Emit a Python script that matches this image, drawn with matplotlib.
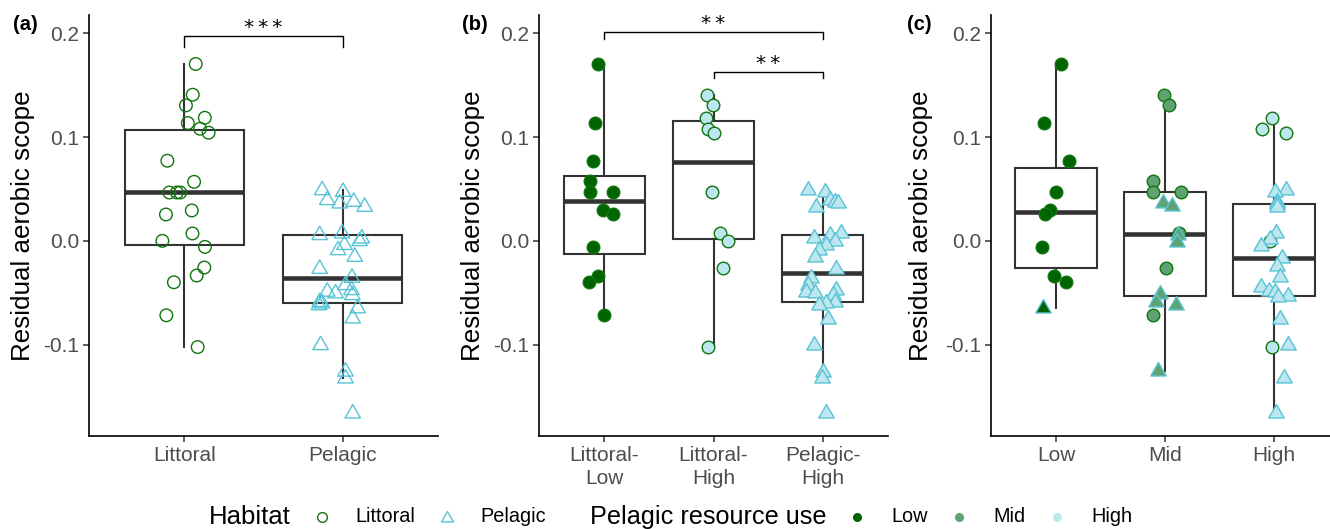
import matplotlib
matplotlib.use("Agg")
import matplotlib.pyplot as plt
import numpy as np
from matplotlib.path import Path

plt.rcParams['font.family'] = ['Liberation Sans', 'DejaVu Sans']
plt.rcParams['axes.unicode_minus'] = False

# ---------------- data ----------------
# (a) habitat
a_groups = ['Littoral', 'Pelagic']
a_lit = [0.1704, 0.1408, 0.1305, 0.1186, 0.1135, 0.1080, 0.1042, 0.0772, 0.0569, 0.0466, 0.0466,
         0.0466, 0.0293, 0.0254, 0.0071, 0.0000, -0.0058, -0.0257, -0.0334, -0.0399, -0.0717, -0.1023]
a_lit_dx = [0.073, 0.054, 0.011, 0.13, 0.023, 0.10, 0.154, -0.106, 0.0625, -0.094, -0.046,
            -0.025, 0.048, -0.115, 0.052, -0.1375, 0.131, 0.127, 0.079, -0.065, -0.1125, 0.085]
a_pel = [0.0488, 0.0472, 0.0392, 0.0376, 0.0360, 0.0328, 0.0071, 0.0055, 0.0023, -0.0003, -0.0040,
         -0.0090, -0.0154, -0.0270, -0.0356, -0.0427, -0.0475, -0.0490, -0.0507, -0.0523, -0.0590,
         -0.0603, -0.0620, -0.0650, -0.0748, -0.1005, -0.1260, -0.1326, -0.1663]
a_pel_dx = [-0.13, 0.002, -0.098, 0.069, -0.02, 0.1375, -0.004, -0.146, 0.12, 0.106, 0.01,
            -0.03, 0.075, -0.146, 0.058, 0.017, 0.055, -0.098, -0.046, 0.06, -0.145,
            -0.13, -0.15, 0.094, 0.0625, -0.14, 0.017, 0.017, 0.0625]

# (b) habitat x pelagic resource use
b_groups = ['Littoral-\nLow', 'Littoral-\nHigh', 'Pelagic-\nHigh']
b_lit_low = [0.1704, 0.1135, 0.0772, 0.0576, 0.0473, 0.0473, 0.0293, 0.0254, -0.0058, -0.0334, -0.0399, -0.0717]
b_lit_low_dx = [-0.061, -0.086, -0.101, -0.128, -0.135, 0.076, -0.012, 0.083, -0.107, -0.061, -0.138, -0.006]
b_lit_high = [0.1408, 0.1305, 0.1186, 0.1080, 0.1042, 0.0473, 0.0071, 0.0000, -0.0257, -0.1023]
b_lit_high_dx = [-0.064, -0.006, -0.073, -0.046, 0.009, -0.018, 0.058, 0.135, 0.083, -0.052]
b_pel_high = [0.0488, 0.0472, 0.0392, 0.0376, 0.0360, 0.0328, 0.0071, 0.0055, 0.0023, -0.0003, -0.0040,
              -0.0090, -0.0154, -0.0270, -0.0356, -0.0427, -0.0475, -0.0490, -0.0507, -0.0523, -0.0590,
              -0.0603, -0.0620, -0.0748, -0.1005, -0.1260, -0.1326, -0.1663]
b_pel_high_dx = [-0.135, 0.018, 0.064, 0.11, 0.14, -0.058, 0.165, 0.064, -0.08, 0.11, 0.028,
                 -0.03, -0.073, 0.126, -0.11, -0.135, 0.126, -0.15, -0.073, 0.095, 0.11,
                 0.034, -0.03, 0.049, -0.08, 0.003, -0.003, 0.034]

# (c) pelagic resource use, split by habitat
c_groups = ['Low', 'Mid', 'High']
c_low_lit = [0.1704, 0.1135, 0.0772, 0.0473, 0.0293, 0.0254, -0.0058, -0.0334, -0.0399]
c_low_lit_dx = [0.046, -0.113, 0.116, -0.003, -0.061, -0.103, -0.131, -0.018, 0.092]
c_low_pel = [-0.0650]
c_low_pel_dx = [-0.12]
c_mid_lit = [0.1408, 0.1305, 0.0576, 0.0473, 0.0473, 0.0071, -0.0257, -0.0717]
c_mid_lit_dx = [-0.009, 0.034, -0.113, -0.113, 0.147, 0.125, 0.012, -0.113]
c_mid_pel = [0.0360, 0.0334, 0.0055, -0.0010, -0.0513, -0.0588, -0.0620, -0.1255]
c_mid_pel_dx = [-0.015, 0.061, 0.122, 0.107, -0.046, -0.085, 0.098, -0.067]
c_high_lit = [0.1186, 0.1080, 0.1042, 0.0000, -0.1023]
c_high_lit_dx = [-0.015, -0.107, 0.11, -0.03, -0.018]
c_high_pel = [0.0488, 0.0472, 0.0376, 0.0352, 0.0325, 0.0071, 0.0016, -0.0045, -0.0165, -0.0245,
              -0.0350, -0.0440, -0.0480, -0.0490, -0.0530, -0.0545, -0.0748, -0.1005, -0.1326, -0.1663]
c_high_pel_dx = [0.11, 0.009, 0.03, 0.03, 0.03, 0.025, -0.037, -0.113, 0.08, 0.03,
                 0.06, -0.113, -0.043, 0.009, 0.13, 0.04, 0.055, 0.13, 0.094, 0.025]

# significance brackets: (panel, group1, group2, y, drop, label)
sig = [('a', 1, 2, 0.197, 0.010, '***'),
       ('b', 1, 3, 0.201, 0.0065, '**'),
       ('b', 2, 3, 0.163, 0.0065, '**')]

# ---------------- style ----------------
LIT_EDGE = '#107510'
PEL_EDGE = '#58c3d5'
FILL = {'Low': '#006400', 'Mid': '#5fa372', 'High': '#bde7ee'}
BOX = '#333333'
TRI = Path([(0, 1), (-0.866, -0.5), (0.866, -0.5), (0, 1)], closed=True)
S_CIRC, S_TRI = 82, 165

W, H = 1330, 529
fig = plt.figure(figsize=(W / 100, H / 100), dpi=100)


def make_ax(left, right):
    ax = fig.add_axes([left / W, 1 - 436 / H, (right - left) / W, (436 - 15) / H])
    for s in ('top', 'right'):
        ax.spines[s].set_visible(False)
    for s in ('left', 'bottom'):
        ax.spines[s].set_linewidth(1.2)
    ax.set_ylim(-0.188, 0.2176)
    ax.set_yticks([-0.1, 0.0, 0.1, 0.2])
    ax.set_yticklabels(['-0.1', '0.0', '0.1', '0.2'])
    ax.tick_params(axis='both', length=4, width=1.1, color=BOX, labelsize=15,
                   labelcolor='#4d4d4d', pad=3)
    ax.set_ylabel('Residual aerobic scope', fontsize=18.7, va='center')
    return ax


def boxes(ax, groups):
    ax.boxplot(groups, positions=np.arange(1, len(groups) + 1), widths=0.75, whis=1.5,
               showfliers=False, showcaps=False, patch_artist=True,
               boxprops=dict(facecolor='white', edgecolor=BOX, linewidth=1.5),
               whiskerprops=dict(color=BOX, linewidth=1.5),
               medianprops=dict(color=BOX, linewidth=3.3, solid_capstyle='butt'),
               zorder=1)


def points(ax, pos, vals, dx, marker, face, edge):
    s = S_TRI if marker is TRI else S_CIRC
    ax.scatter(pos + np.asarray(dx), vals, marker=marker, s=s, facecolors=face,
               edgecolors=edge, linewidths=1.0, zorder=3)


axa = make_ax(89, 438)
axb = make_ax(539, 888)
axc = make_ax(991, 1339)
axes = {'a': axa, 'b': axb, 'c': axc}

# (a)
boxes(axa, [a_lit, a_pel])
points(axa, 1, a_lit, a_lit_dx, 'o', 'none', LIT_EDGE)
points(axa, 2, a_pel, a_pel_dx, TRI, 'none', PEL_EDGE)
axa.set_xlim(0.4, 2.6)
axa.set_xticks([1, 2])
axa.set_xticklabels(a_groups)

# (b)
boxes(axb, [b_lit_low, b_lit_high, b_pel_high])
points(axb, 1, b_lit_low, b_lit_low_dx, 'o', FILL['Low'], LIT_EDGE)
points(axb, 2, b_lit_high, b_lit_high_dx, 'o', FILL['High'], LIT_EDGE)
points(axb, 3, b_pel_high, b_pel_high_dx, TRI, FILL['High'], PEL_EDGE)
axb.set_xlim(0.4, 3.6)
axb.set_xticks([1, 2, 3])
axb.set_xticklabels(b_groups, linespacing=1.3)

# (c)
boxes(axc, [c_low_lit + c_low_pel, c_mid_lit + c_mid_pel, c_high_lit + c_high_pel])
points(axc, 1, c_low_lit, c_low_lit_dx, 'o', FILL['Low'], LIT_EDGE)
points(axc, 1, c_low_pel, c_low_pel_dx, TRI, FILL['Low'], PEL_EDGE)
points(axc, 2, c_mid_lit, c_mid_lit_dx, 'o', FILL['Mid'], LIT_EDGE)
points(axc, 2, c_mid_pel, c_mid_pel_dx, TRI, FILL['Mid'], PEL_EDGE)
points(axc, 3, c_high_lit, c_high_lit_dx, 'o', FILL['High'], LIT_EDGE)
points(axc, 3, c_high_pel, c_high_pel_dx, TRI, FILL['High'], PEL_EDGE)
axc.set_xlim(0.4, 3.6)
axc.set_xticks([1, 2, 3])
axc.set_xticklabels(c_groups)

for ax, lx in ((axa, -0.19), (axb, -0.19), (axc, -0.2)):
    ax.yaxis.set_label_coords(lx, 0.5)

# significance brackets
for p, g1, g2, y, drop, lab in sig:
    ax = axes[p]
    ax.plot([g1, g1, g2, g2], [y - drop, y, y, y - drop], color='black', lw=1.0,
            clip_on=False, zorder=4)
    ax.text((g1 + g2) / 2, y - 0.001, '\u2009'.join(lab), ha='center', va='bottom',
            fontsize=14.5, family='DejaVu Sans')

# panel letters
for lab, x in (('(a)', 13), ('(b)', 462), ('(c)', 907)):
    fig.text(x / W, 1 - 25 / H, lab, fontsize=14.5, fontweight='bold', va='center', ha='left')

# legend (bottom)
lax = fig.add_axes([0, 0, 1, 1], zorder=-1)
lax.set_xlim(0, W)
lax.set_ylim(H, 0)
lax.axis('off')
ly = 517
lax.text(209, ly, 'Habitat', fontsize=18.5, va='center', ha='left')
lax.plot([322], [ly], marker='o', ms=7, mfc='none', mec=LIT_EDGE, mew=1.0)
lax.text(355, ly, 'Littoral', fontsize=14.3, va='center', ha='left')
lax.plot([447], [ly + 1], marker=TRI, ms=10, mfc='none', mec=PEL_EDGE, mew=1.0)
lax.text(480, ly, 'Pelagic', fontsize=14.3, va='center', ha='left')
lax.text(590, ly, 'Pelagic resource use', fontsize=18.2, va='center', ha='left')
for key, mx in (('Low', 857), ('Mid', 959), ('High', 1057)):
    lax.plot([mx], [ly], marker='o', ms=6.5, mfc=FILL[key], mec=FILL[key], mew=0)
    lax.text(mx + 34, ly, key, fontsize=14.3, va='center', ha='left')

fig.savefig('out.png', dpi=100)
